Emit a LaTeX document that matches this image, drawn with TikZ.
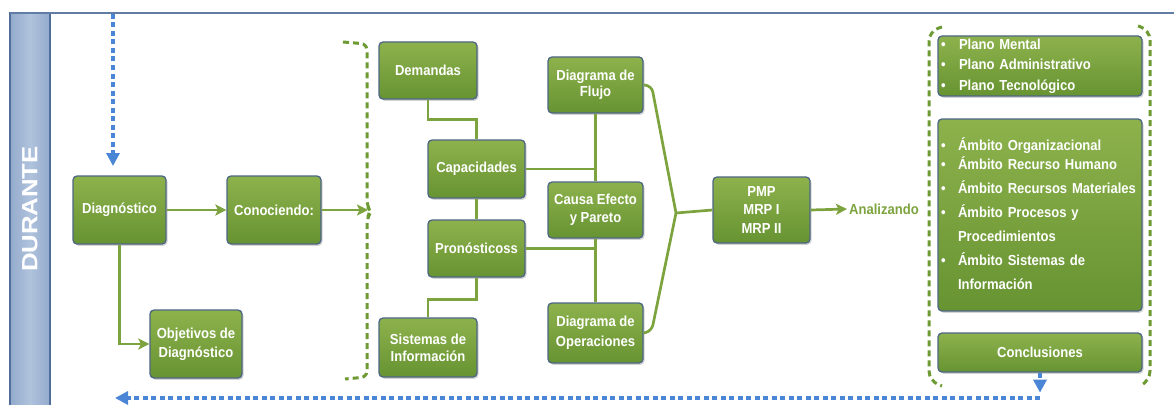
\documentclass[tikz,border=0pt]{standalone}
\usepackage{fontspec}
\setmainfont{Liberation Sans}[FakeStretch=0.9]
\usetikzlibrary{arrows.meta,shadows,calc}

\definecolor{gL}{HTML}{8DB24C}
\definecolor{gD}{HTML}{679332}
\definecolor{boxB}{HTML}{4D6684}
\definecolor{gLine}{HTML}{7CA33E}
\definecolor{gDash}{HTML}{6E9A33}
\definecolor{bDash}{HTML}{4A85D6}
\definecolor{laneL}{HTML}{B0C3DD}
\definecolor{laneD}{HTML}{93AACB}
\definecolor{laneB}{HTML}{4F6E9B}

\tikzset{
  box/.style={draw=boxB, line width=1.3pt, rounded corners=4pt,
    top color=gL, bottom color=gD, text=white, align=center, inner sep=0pt,
    font=\bfseries\fontsize{14.5}{17}\selectfont,
    drop shadow={opacity=0.35, shadow xshift=1.5pt, shadow yshift=-1.8pt}},
  conn/.style={draw=gLine, line width=2.7pt},
  connarrow/.style={conn, -{Stealth[length=11pt,width=11pt,inset=2.5pt]}},
  gbracket/.style={draw=gDash, line width=3pt, dash pattern=on 6pt off 4pt},
  bluearrow/.style={draw=bDash, line width=3.2pt, dash pattern=on 5pt off 3.5pt,
    -{Triangle[length=13pt,width=13pt]}}
}

\begin{document}
\begin{tikzpicture}[x=1pt,y=-1pt]
\useasboundingbox (0,0) rectangle (1174,404);

% swimlane header
\shade[left color=laneD, right color=laneD, middle color=laneL] (10,13) rectangle (50,410);
\draw[laneB, line width=1.5pt] (10,410) -- (10,13) -- (50,13) -- (50,410);
\draw[laneB!90, line width=2pt] (10,13) -- (1174,13);
\node[rotate=90, text=white, font=\bfseries\fontsize{22}{24}\selectfont] (lane) at (30,209)
  {\scalebox{1.3}[1]{DURANTE}};

% first column
\node[box, minimum width=93, minimum height=68] (diag) at (119.5,210) {Diagnóstico};
\node[box, minimum width=94, minimum height=68] (conoc) at (274,210) {Conociendo:};
\node[box, minimum width=92, minimum height=68, font=\bfseries\fontsize{14.5}{19}\selectfont] (obj) at (196,344) {Objetivos de\\Diagnóstico};

% second column
\node[box, minimum width=98, minimum height=57] (dem) at (428,70.5) {Demandas};
\node[box, minimum width=97, minimum height=58] (cap) at (476.5,169) {Capacidades};
\node[box, minimum width=97, minimum height=57] (pron) at (476.5,248.5) {Pronósticoss};
\node[box, minimum width=98, minimum height=59] (sist) at (428,347.5) {Sistemas de\\Información};

% third column
\node[box, minimum width=95, minimum height=56, font=\bfseries\fontsize{14.5}{16.5}\selectfont] (flujo) at (595.5,85) {Diagrama de\\Flujo};
\node[box, minimum width=95, minimum height=56, font=\bfseries\fontsize{14.5}{18}\selectfont] (causa) at (595.5,210) {Causa Efecto\\y Pareto};
\node[box, minimum width=95, minimum height=60, font=\bfseries\fontsize{14.5}{20}\selectfont] (ops) at (595.5,333) {Diagrama de\\Operaciones};

% planning systems
\node[box, minimum width=97, minimum height=66, font=\bfseries\fontsize{14.5}{18.5}\selectfont] (pmp) at (761.5,210) {PMP\\MRP I\\MRP II};
\node[text=gLine, font=\bfseries\fontsize{14.5}{15}\selectfont, inner sep=2pt] (anal) at (884,209) {Analizando};

% right group
\node[box, minimum width=204, minimum height=60, text width=198, align=left] (plano) at (1040,66)
  {\fontsize{14.5}{20}\selectfont
   \begin{tabular}{@{}p{18pt}@{}l@{}}
   \textbullet & Plano Mental\\
   \textbullet & Plano Administrativo\\
   \textbullet & Plano Tecnológico
   \end{tabular}};
\node[box, minimum width=204, minimum height=192, text width=198, align=left] (ambito) at (1040,215)
  {\fontsize{14.5}{24}\selectfont
   \begin{tabular}{@{}p{17pt}@{}l@{}}
   \textbullet & Ámbito Organizacional\\[-4.5pt]
   \textbullet & Ámbito Recurso Humano\\
   \textbullet & Ámbito Recursos Materiales\\
   \textbullet & Ámbito Procesos y\\
   & Procedimientos\\
   \textbullet & Ámbito Sistemas de\\
   & Información
   \end{tabular}};
\node[box, minimum width=204, minimum height=39] (concl) at (1040,352.5) {Conclusiones};

% flow connectors
\draw[connarrow] (diag.east) -- (conoc.west);
\coordinate (brk) at (368,210);
\draw[connarrow] (conoc.east) -- (brk);
\draw[connarrow] (diag.south) |- (obj.west);

\draw[conn] (dem.south) -- ++(0,20) -| (cap.north);
\draw[conn] (cap.south) -- (pron.north);
\draw[conn] (pron.south) -- ++(0,22) -| (sist.north);

\draw[conn] (flujo.south) -- (causa.north);
\draw[conn] (causa.south) -- (ops.north);
\draw[conn] (cap.east) -- (cap.east -| flujo.south);
\draw[conn] (pron.east) -- (pron.east -| causa.south);

\coordinate (fan) at (676,213);
\draw[conn, rounded corners=6pt] (flujo.east) -- ++(8,1) -- (fan);
\draw[conn, rounded corners=6pt] (ops.east) -- ++(8,-2) -- (fan);
\draw[conn] (fan) -- (pmp.west);
\draw[connarrow] (pmp.east) -- (anal.west);

% dashed brackets
\draw[gbracket, rounded corners=6pt] (343,42) -- (367,44) -- (367,206) -- (371,212) -- (367,218) -- (367,377) -- (345,379);
\draw[gbracket, rounded corners=10pt] (942,27) -- (929,31) -- (929,381) -- (942,386);
\draw[gbracket, rounded corners=10pt] (1138,26) -- (1150,30) -- (1150,381) -- (1140,386);

% dashed return arrows
\coordinate (entry) at (113,14);
\coordinate (entrytip) at (113,166);
\draw[bluearrow] (entry) -- (entrytip);
\coordinate (back) at (115,398);
\draw[bluearrow] (concl.south) -- ++(0,20);
\draw[bluearrow] (concl.south |- back) -- (back);
\end{tikzpicture}
\end{document}
